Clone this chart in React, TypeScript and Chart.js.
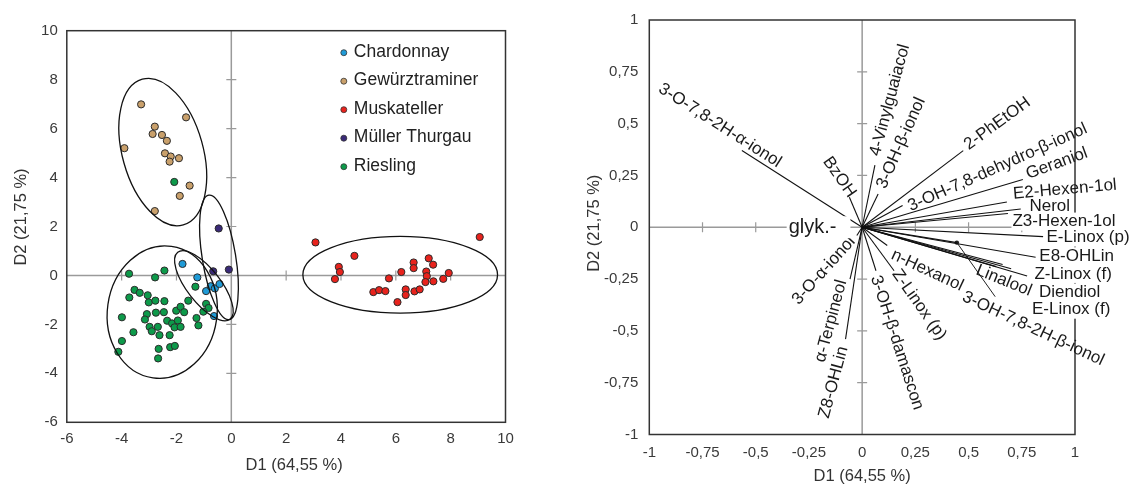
import React, { useEffect, useRef } from 'react';
import { Chart, registerables } from 'chart.js';

Chart.register(...registerables);

const FONT = '"Liberation Sans", Arial, Helvetica, sans-serif';

// ---------------- Left panel: observation scores ----------------
const cultivars = ['Chardonnay', 'Gewürztraminer', 'Muskateller', 'Müller Thurgau', 'Riesling'];
const cultivarColors = ['#1f9bd7', '#c9a06b', '#e8231d', '#3a2a78', '#0d9a4a'];

const chardonnayD1 = [-1.78, -1.24, -0.92, -0.75, -0.6, -0.43, -0.63];
const chardonnayD2 = [0.47, -0.08, -0.64, -0.44, -0.53, -0.35, -1.66];

const gewurzD1 = [-3.29, -1.65, -2.79, -2.87, -2.53, -2.35, -3.9, -2.42, -2.21, -1.91, -2.25, -1.52, -1.88, -2.79];
const gewurzD2 = [6.99, 6.46, 6.08, 5.78, 5.74, 5.5, 5.2, 4.99, 4.86, 4.79, 4.65, 3.67, 3.25, 2.63];

const muskD1 = [3.07, 9.06, 4.49, 3.92, 3.96, 3.78, 5.75, 6.2, 6.65, 6.65, 7.2, 7.36, 7.11, 7.13, 7.08, 7.37, 7.73, 7.93, 5.18, 5.39, 5.62, 6.36, 6.36, 6.06, 6.68, 6.87];
const muskD2 = [1.35, 1.57, 0.8, 0.35, 0.14, -0.15, -0.12, 0.14, 0.53, 0.3, 0.7, 0.44, 0.16, -0.03, -0.27, -0.24, -0.14, 0.1, -0.68, -0.6, -0.64, -0.57, -0.8, -1.09, -0.65, -0.57];

const mullerD1 = [-0.46, -0.66, -0.09];
const mullerD2 = [1.92, 0.17, 0.24];

const rieslingD1 = [-3.73, -2.44, -2.78, -3.53, -3.72, -3.34, -3.05, -3.01, -2.77, -2.44, -3.08, -3.15, -2.75, -2.46, -3.99, -2.98, -2.9, -2.68, -2.62, -2.25, -2.34, -2.16, -1.95, -2.07, -1.85, -2.01, -1.85, -1.72, -1.57, -1.31, -1.27, -1.2, -0.92, -0.83, -1.02, -3.57, -3.99, -4.12, -2.65, -2.23, -2.06, -2.67, -2.08];
const rieslingD2 = [0.07, 0.2, -0.08, -0.59, -0.9, -0.71, -0.81, -1.1, -1.03, -1.05, -1.58, -1.8, -1.52, -1.5, -1.71, -2.1, -2.28, -2.1, -2.44, -2.44, -1.85, -1.96, -1.84, -2.12, -2.1, -1.44, -1.28, -1.5, -1.03, -0.46, -1.74, -2.04, -1.16, -1.33, -1.48, -2.32, -2.68, -3.12, -3.0, -2.93, -2.88, -3.39, 3.82];

const cultivarD1 = [chardonnayD1, gewurzD1, muskD1, mullerD1, rieslingD1];
const cultivarD2 = [chardonnayD2, gewurzD2, muskD2, mullerD2, rieslingD2];

// Confidence ellipse centres (D1, D2) per cultivar
const ellipseD1 = [-1.0, -2.5, 6.16, -0.45, -2.52];
const ellipseD2 = [-0.42, 5.04, 0.03, 0.74, -1.5];
// ellipse shape (radii in D1 units, rotation in degrees)
const ellipseShape = [
  { rx: 0.61, ry: 1.55, rot: -38 },
  { rx: 1.47, ry: 2.76, rot: -15.7 },
  { rx: 3.55, ry: 1.4, rot: 0 },
  { rx: 0.61, ry: 2.3, rot: -9.3 },
  { rx: 2.0, ry: 2.42, rot: 8 },
];

const scoreTicks = { min: -6, max: 10, step: 2 };

// ---------------- Right panel: variable loadings ----------------
const variables = [
  '3-O-7,8-2H-α-ionol', 'BzOH', '4-Vinylguaiacol', '3-OH-β-ionol', '2-PhEtOH',
  '3-OH-7,8-dehydro-β-ionol', 'Geraniol', 'E2-Hexen-1ol', 'Nerol', 'Z3-Hexen-1ol',
  'E-Linox (p)', 'E8-OHLin', 'Z-Linox (f)', 'Diendiol', 'E-Linox (f)',
  '3-OH-7,8-2H-β-ionol', 'Linalool', 'n-Hexanol', 'Z-Linox (p)', '3-OH-β-damascon',
  '3-O-α-ionol', 'α-Terpineol', 'Z8-OHLin',
];
const loadD1 = [-0.565, -0.06, 0.06, 0.075, 0.475, 0.19, 0.755, 0.68, 0.745, 0.685, 0.85, 0.815, 0.775, 0.66, 0.7, 0.63, 0.445, 0.118, 0.15, 0.065, -0.025, -0.057, -0.078];
const loadD2 = [0.37, 0.145, 0.3, 0.16, 0.37, 0.105, 0.23, 0.122, 0.088, 0.066, -0.045, -0.145, -0.235, -0.18, -0.2, -0.19, -0.074, -0.088, -0.21, -0.21, -0.04, -0.25, -0.54];

// leader line from the Linalool vector end towards its label
const leaderEndD1 = 0.625;
const leaderEndD2 = -0.335;

// supplementary label on the D1 axis
const suppLabel = 'glyk.-';
const suppD1 = -0.233;
const suppD2 = 0;

const loadTicks = { min: -1, max: 1, step: 0.25 };

// label layout: offset from vector end (px), rotation (deg), white background
const labelLayout: [number, number, number, boolean][] = [
  [-22, -25, 32.5, false],
  [-10, -20, 55, false],
  [15, -65, -75, false],
  [23, -51, -66, false],
  [34, -27, -36, false],
  [95, -38, -24, false],
  [34, -16, -20, false],
  [58, -12.5, -5, false],
  [29, -3, 0, false],
  [56, 8, 0, true],
  [45, 1, 0, true],
  [41, -1, 0, true],
  [46, -2, 0, true],
  [67, 28, 0, true],
  [60, 41, 0, true],
  [37, 62, 25, false],
  [47, 38, 22, false],
  [40, 25, 25, false],
  [25, 34, 55, false],
  [21, 72, 72, false],
  [-33, 35, -48, false],
  [-19, 42, -75, false],
  [-12, 43, -75, false],
];

const fmt = (v: number) => String(v).replace('.', ',');

function drawFrame(chart: any) {
  const { ctx, chartArea: a, scales } = chart;
  const x = scales.x, y = scales.y;
  const x0 = x.getPixelForValue(0);
  const y0 = y.getPixelForValue(0);
  ctx.save();
  ctx.strokeStyle = '#9a9a9a';
  ctx.lineWidth = 1.5;
  ctx.beginPath();
  ctx.moveTo(a.left, y0); ctx.lineTo(a.right, y0);
  ctx.moveTo(x0, a.top); ctx.lineTo(x0, a.bottom);
  ctx.stroke();
  ctx.lineWidth = 1.2;
  ctx.beginPath();
  x.ticks.forEach((t: any) => {
    if (t.value === 0 || t.value === x.min || t.value === x.max) return;
    const p = x.getPixelForValue(t.value);
    ctx.moveTo(p, y0 - 5); ctx.lineTo(p, y0 + 5);
  });
  y.ticks.forEach((t: any) => {
    if (t.value === 0 || t.value === y.min || t.value === y.max) return;
    const p = y.getPixelForValue(t.value);
    ctx.moveTo(x0 - 5, p); ctx.lineTo(x0 + 5, p);
  });
  ctx.stroke();
  ctx.strokeStyle = '#333';
  ctx.lineWidth = 1.5;
  ctx.strokeRect(a.left, a.top, a.right - a.left, a.bottom - a.top);
  ctx.restore();
}

function drawTitles(chart: any, dxX: number, dyX: number, xY: number, dyY: number) {
  const { ctx, chartArea: a } = chart;
  ctx.save();
  ctx.fillStyle = '#333';
  ctx.font = `16.5px ${FONT}`;
  ctx.textAlign = 'center';
  ctx.textBaseline = 'middle';
  ctx.fillText('D1 (64,55 %)', (a.left + a.right) / 2 + dxX, a.bottom + dyX);
  ctx.translate(xY, (a.top + a.bottom) / 2 + dyY);
  ctx.rotate(-Math.PI / 2);
  ctx.fillText('D2 (21,75 %)', 0, 0);
  ctx.restore();
}

function axisOptions(t: { min: number; max: number; step: number }, padding: number, fitSize: number, horizontal: boolean) {
  return {
    type: 'linear',
    min: t.min,
    max: t.max,
    grid: { display: false, drawTicks: false },
    border: { display: false },
    ticks: {
      stepSize: t.step,
      padding,
      color: '#3a3a3a',
      font: { family: FONT, size: 15 },
      callback: (v: any) => fmt(v),
      maxRotation: 0,
      autoSkip: false,
    },
    afterFit: (s: any) => {
      if (horizontal) s.height = fitSize; else s.width = fitSize;
    },
  };
}

function leftConfig(): any {
  const datasets = cultivars.map((name, i) => ({
    label: name,
    data: cultivarD1[i].map((v, k) => ({ x: v, y: cultivarD2[i][k] })),
    backgroundColor: cultivarColors[i],
    borderColor: '#2b2b2b',
    borderWidth: 1,
    pointRadius: 3.6,
  }));
  const framePlugin = {
    id: 'leftFrame',
    beforeDatasetsDraw: (chart: any) => drawFrame(chart),
    afterDatasetsDraw: (chart: any) => {
      const { ctx, chartArea: a, scales: { x, y } } = chart;
      const ppu = Math.abs(x.getPixelForValue(1) - x.getPixelForValue(0));
      ctx.save();
      ctx.strokeStyle = '#111';
      ctx.lineWidth = 1.3;
      ellipseShape.forEach((e, i) => {
        ctx.beginPath();
        ctx.ellipse(x.getPixelForValue(ellipseD1[i]), y.getPixelForValue(ellipseD2[i]), e.rx * ppu, e.ry * ppu, (e.rot * Math.PI) / 180, 0, Math.PI * 2);
        ctx.stroke();
      });
      // legend
      const lx = a.left + 277;
      ctx.font = `17.5px ${FONT}`;
      ctx.textAlign = 'left';
      ctx.textBaseline = 'middle';
      cultivars.forEach((name, i) => {
        const ly = a.top + 21 + i * 28.5;
        ctx.beginPath();
        ctx.arc(lx, ly + 1, 3, 0, Math.PI * 2);
        ctx.fillStyle = cultivarColors[i];
        ctx.fill();
        ctx.lineWidth = 0.8;
        ctx.strokeStyle = '#333';
        ctx.stroke();
        ctx.fillStyle = '#222';
        ctx.fillText(name, lx + 10, ly);
      });
      ctx.restore();
    },
    afterDraw: (chart: any) => drawTitles(chart, 8, 43, 21.4, -9.5),
  };
  return {
    type: 'scatter',
    data: { datasets },
    options: {
      responsive: false,
      animation: false,
      layout: { padding: { left: 0, top: 30.7, right: 54.5, bottom: 0 } },
      plugins: { legend: { display: false }, tooltip: { enabled: false } },
      scales: {
        x: axisOptions(scoreTicks, 8, 65.7, true),
        y: axisOptions(scoreTicks, 9, 66.8, false),
      },
    },
    plugins: [framePlugin],
  };
}

function rightConfig(): any {
  const datasets: any[] = variables.map((name, i) => ({
    label: name,
    data: [{ x: 0, y: 0 }, { x: loadD1[i], y: loadD2[i] }],
    showLine: true,
    borderColor: '#111',
    borderWidth: 1.1,
    pointRadius: 0,
  }));
  datasets.push({
    label: 'leader',
    data: [{ x: loadD1[16], y: loadD2[16] }, { x: leaderEndD1, y: leaderEndD2 }],
    showLine: true,
    borderColor: '#222',
    borderWidth: 1,
    pointRadius: [2.2, 0],
    pointBackgroundColor: '#222',
    pointBorderWidth: 0,
  });
  const framePlugin = {
    id: 'rightFrame',
    beforeDatasetsDraw: (chart: any) => drawFrame(chart),
    afterDatasetsDraw: (chart: any) => {
      const { ctx, scales: { x, y } } = chart;
      ctx.save();
      ctx.font = `17px ${FONT}`;
      ctx.textAlign = 'center';
      ctx.textBaseline = 'middle';
      variables.forEach((name, i) => {
        const [dx, dy, rot, bg] = labelLayout[i];
        const px = x.getPixelForValue(loadD1[i]) + dx;
        const py = y.getPixelForValue(loadD2[i]) + dy;
        ctx.save();
        ctx.translate(px, py);
        ctx.rotate((rot * Math.PI) / 180);
        if (bg) {
          const w = ctx.measureText(name).width;
          ctx.fillStyle = '#fff';
          ctx.fillRect(-w / 2 - 1, -9, w + 2, 18);
        }
        ctx.fillStyle = '#1a1a1a';
        ctx.fillText(name, 0, 0);
        ctx.restore();
      });
      // supplementary label
      ctx.font = `20px ${FONT}`;
      const gx = x.getPixelForValue(suppD1);
      const gy = y.getPixelForValue(suppD2);
      const w = ctx.measureText(suppLabel).width;
      ctx.fillStyle = '#fff';
      ctx.fillRect(gx - w / 2 - 2, gy - 11, w + 16, 22);
      ctx.fillStyle = '#1a1a1a';
      ctx.fillText(suppLabel, gx, gy);
      ctx.restore();
    },
    afterDraw: (chart: any) => drawTitles(chart, 0, 42, 34.6, -4),
  };
  return {
    type: 'scatter',
    data: { datasets },
    options: {
      responsive: false,
      animation: false,
      layout: { padding: { left: 0, top: 19.5, right: 55, bottom: 0 } },
      plugins: { legend: { display: false }, tooltip: { enabled: false } },
      scales: {
        x: axisOptions(loadTicks, 9, 53.5, true),
        y: axisOptions(loadTicks, 11, 89.3, false),
      },
    },
    plugins: [framePlugin],
  };
}

export default function App() {
  const leftRef = useRef<HTMLCanvasElement>(null);
  const rightRef = useRef<HTMLCanvasElement>(null);
  useEffect(() => {
    const c1 = new Chart(leftRef.current as HTMLCanvasElement, leftConfig());
    const c2 = new Chart(rightRef.current as HTMLCanvasElement, rightConfig());
    return () => {
      c1.destroy();
      c2.destroy();
    };
  }, []);
  return (
    <div style={{ position: 'fixed', left: 0, top: 0, width: 1130, height: 488, background: '#fff' }}>
      <canvas ref={leftRef} width={560} height={488} style={{ position: 'absolute', left: 0, top: 0, width: 560, height: 488 }} />
      <canvas ref={rightRef} width={570} height={488} style={{ position: 'absolute', left: 560, top: 0, width: 570, height: 488 }} />
    </div>
  );
}
